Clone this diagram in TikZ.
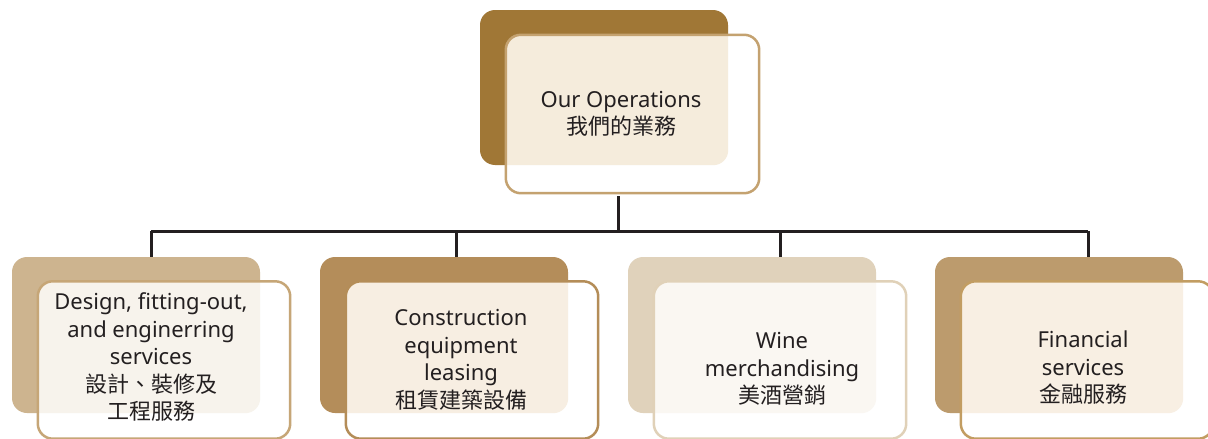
\documentclass[tikz,border=0pt]{standalone}
\usepackage{fontspec}
\setmainfont{Noto Sans}
\newfontfamily\cjk{Noto Sans CJK TC}
\usetikzlibrary{calc}
\definecolor{ink}{HTML}{231F20}
\definecolor{bk0}{HTML}{A07736}
\definecolor{bk1}{HTML}{CDB48F}
\definecolor{bk2}{HTML}{B48D5A}
\definecolor{bk3}{HTML}{E0D2BB}
\definecolor{bk4}{HTML}{BC9B6D}
\definecolor{ol0}{HTML}{C4A270}
\definecolor{ol1}{HTML}{C6A677}
\definecolor{ol2}{HTML}{B48D58}
\definecolor{ol3}{HTML}{E0D1B8}
\definecolor{ol4}{HTML}{C29D62}
\definecolor{tn0}{HTML}{F5ECDC}
\definecolor{tn1}{HTML}{F7F3EC}
\definecolor{tn2}{HTML}{F7EEE2}
\definecolor{tn3}{HTML}{FAF7F2}
\definecolor{tn4}{HTML}{F8EFE3}
\tikzset{
  backbox/.style={rectangle, rounded corners=15pt, minimum width=248pt, minimum height=156pt, inner sep=0pt, draw=none, fill=#1},
  frontbox/.style={rectangle, rounded corners=15pt, minimum width=252pt, minimum height=157pt, inner sep=0pt, draw=none, fill=white},
  label/.style={align=center, text=ink, font=\fontsize{22}{27.5}\selectfont, inner sep=0pt},
  conn/.style={draw=ink, line width=3pt},
  outline/.style={draw=#1, line width=2.5pt, rounded corners=15pt},
}
% #1 back node, #2 front node, #3 tint, #4 outline colour
\newcommand{\overlapfill}[4]{%
  \begin{scope}
    \path[clip, rounded corners=15pt] (#1.south west) rectangle (#1.north east);
    \fill[#3, rounded corners=15pt] (#2.south west) rectangle (#2.north east);
  \end{scope}
  \path[outline=#4] (#2.south west) rectangle (#2.north east);
}
\begin{document}
\begin{tikzpicture}[x=1pt,y=-1pt]
\useasboundingbox (0,0) rectangle (1208,439);
\clip (0,0) rectangle (1208,439);
\fill[white] (0,0) rectangle (1208,439);
% top
\node[backbox=bk0, minimum height=155pt] (topback) at (604,87.5) {};
\node[frontbox, minimum width=253pt, minimum height=158pt] (topfront) at (632.5,114) {};
\overlapfill{topback}{topfront}{tn0}{ol0}
\node[label] (t0) at (621,114) {Our Operations\\{\cjk 我們的業務}};
% boxes
\node[backbox=bk1] (back1) at (136,335) {};
\node[frontbox] (front1) at (164,360) {};
\overlapfill{back1}{front1}{tn1}{ol1}
\node[label] (t1) at (151,357) {Design, fitting-out,\\and enginerring\\services\\{\cjk 設計、裝修及}\\{\cjk 工程服務}};
\node[backbox=bk2] (back2) at (444,335) {};
\node[frontbox] (front2) at (472,360) {};
\overlapfill{back2}{front2}{tn2}{ol2}
\node[label] (t2) at (461,360) {Construction\\equipment\\leasing\\{\cjk 租賃建築設備}};
\node[backbox=bk3] (back3) at (752,335) {};
\node[frontbox] (front3) at (780,360) {};
\overlapfill{back3}{front3}{tn3}{ol3}
\node[label] (t3) at (782,369) {Wine\\merchandising\\{\cjk 美酒營銷}};
\node[backbox=bk4] (back4) at (1059,335) {};
\node[frontbox] (front4) at (1087,360) {};
\overlapfill{back4}{front4}{tn4}{ol4}
\node[label] (t4) at (1083,368) {Financial\\services\\{\cjk 金融服務}};
% connectors
\coordinate (j0) at (618,231);
\coordinate (j1) at (151,231);
\coordinate (j2) at (456,231);
\coordinate (j3) at (780,231);
\coordinate (j4) at (1088,231);
\draw[conn] (j0 |- topfront.south) ++(0,3) -- (j0);
\draw[conn] (j1) -- (j4);
\draw[conn] (j1) -- (j1 |- back1.north);
\draw[conn] (j2) -- (j2 |- back2.north);
\draw[conn] (j3) -- (j3 |- back3.north);
\draw[conn] (j4) -- (j4 |- back4.north);
\end{tikzpicture}
\end{document}
